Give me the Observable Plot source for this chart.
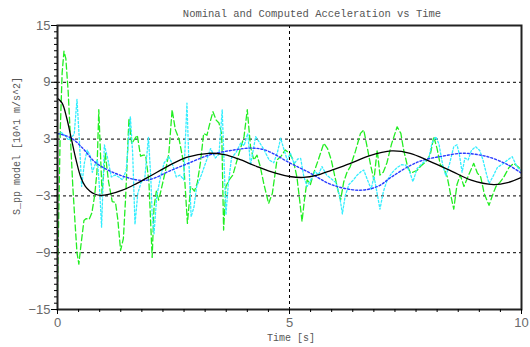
<!DOCTYPE html>
<html>
<head>
<meta charset="utf-8">
<script src="https://cdn.jsdelivr.net/npm/d3@7"></script>
<script src="https://cdn.jsdelivr.net/npm/@observablehq/plot@0.6"></script>
<style>
  html, body { margin: 0; padding: 0; background: #fff; }
  #chart svg { display: block; }
</style>
</head>
<body>
<div id="chart"></div>
<script>
// Nominal acceleration (smooth, solid black)
const nominalT = [0, 0.1, 0.2, 0.3, 0.4, 0.5, 0.6, 0.7, 0.8, 0.93, 1.1, 1.4, 1.7, 2.0, 2.4, 2.8, 3.26, 3.6, 3.9, 4.3, 4.7, 5.0, 5.3, 5.6, 5.9, 6.3, 6.7, 7.2, 7.6, 8.0, 8.5, 8.9, 9.4, 9.7, 10];
const nominalV = [7.3, 6.8, 5.2, 3.0, 0.8, -1.0, -2.0, -2.5, -2.8, -2.95, -2.85, -2.4, -1.7, -0.9, 0.2, 1.1, 1.5, 1.35, 0.9, 0.1, -0.6, -0.95, -1.05, -0.8, -0.3, 0.4, 1.2, 1.75, 1.5, 0.7, -0.4, -1.3, -1.8, -1.6, -1.05];

// Computed acceleration (smooth, dotted blue)
const computedT = [0, 0.3, 0.55, 0.8, 1.1, 1.4, 1.7, 1.9, 2.1, 2.4, 2.8, 3.26, 3.8, 4.2, 4.5, 5.0, 5.45, 5.9, 6.5, 6.9, 7.2, 7.6, 7.9, 8.3, 8.7, 9.0, 9.3, 9.7, 10];
const computedV = [3.6, 3.1, 2.0, 0.6, -0.3, -0.9, -1.3, -1.35, -1.1, -0.4, 0.4, 1.3, 1.85, 2.05, 1.8, 0.5, -0.6, -1.8, -2.4, -2.0, -1.0, 0.2, 0.8, 1.2, 1.5, 1.4, 1.1, 0.3, -0.6];

// Measured signal, first channel (dashed green)
const measuredAT = [0, 0.03, 0.06, 0.1, 0.14, 0.18, 0.23, 0.28, 0.33, 0.38, 0.42, 0.46, 0.51, 0.57, 0.62, 0.68, 0.74, 0.8, 0.85, 0.89, 0.93, 0.96, 1.03, 1.1, 1.18, 1.25, 1.3, 1.36, 1.42, 1.47, 1.54, 1.6, 1.66, 1.72, 1.79, 1.85, 1.9, 1.97, 2.04, 2.08, 2.13, 2.18, 2.25, 2.33, 2.4, 2.47, 2.54, 2.62, 2.72, 2.8, 2.87, 2.95, 3.01, 3.08, 3.15, 3.22, 3.3, 3.35, 3.42, 3.48, 3.54, 3.58, 3.63, 3.7, 3.78, 3.85, 3.93, 4.02, 4.09, 4.16, 4.23, 4.3, 4.37, 4.45, 4.55, 4.63, 4.73, 4.82, 4.91, 5.0, 5.08, 5.16, 5.22, 5.27, 5.32, 5.38, 5.45, 5.52, 5.62, 5.74, 5.82, 5.9, 5.98, 6.06, 6.1, 6.17, 6.24, 6.31, 6.42, 6.53, 6.6, 6.68, 6.75, 6.82, 6.89, 6.95, 7.02, 7.1, 7.2, 7.32, 7.4, 7.46, 7.54, 7.61, 7.68, 7.75, 7.82, 7.9, 7.97, 8.04, 8.11, 8.18, 8.25, 8.32, 8.4, 8.47, 8.54, 8.61, 8.68, 8.76, 8.86, 8.97, 9.05, 9.12, 9.2, 9.3, 9.37, 9.45, 9.53, 9.62, 9.73, 9.83, 9.92, 10];
const measuredAV = [-13, -4, 4, 10, 12.3, 11.5, 8, 3, -2, -6, -9, -10.2, -8, -5.6, -5.4, -5.5, -4.8, -3, -0.5, 6.1, 1, -2.75, 1.5, -1.5, -3.6, -3.7, -5.5, -8.75, -7.5, -3, 5.2, 2.5, 3.0, 3.4, 1.2, 1.3, 1.3, -1.5, -9.5, -4.2, -2.5, -3.45, -2.0, -0.27, 1.5, 6.1, 4.0, 3.0, 0.44, -5.9, -2.0, -2.5, -1.7, 0.5, 3.6, 3.4, 5.0, 5.9, 5.0, 4.7, 3.5, -6.6, -2.0, -1.3, -0.8, 0.44, 1.8, 3.26, 6.1, 2.2, 0.8, 1.3, 0.1, -1.8, -3.8, -2.75, 0.8, 1.2, 1.85, 1.5, 0.8, -1.0, -3.5, -5.7, -3.5, -1.3, -1.8, -0.6, 0.8, 2.56, 2.0, 0.8, -1.0, -2.75, -3.45, -1.5, -0.5, 0.1, 1.7, 3.6, 3.97, 2.0, 0.2, -1.3, 1.85, -0.8, -0.5, 0.5, 2.5, 4.3, 3.6, 1.85, 0.2, -0.6, -0.45, -0.3, 0.1, 0.44, 0.8, 1.5, 3.26, 2.0, 0.3, 0.0, -1.0, -2.8, -4.4, -1.8, -0.8, -2.0, -0.8, 0.44, -0.6, -1.0, -2.8, -4.0, -3.0, -2.0, -1.6, -1.0, 0.0, 0.44, 0.1, -0.27];

// Measured signal, second channel (dotted cyan)
const measuredBT = [0, 0.08, 0.16, 0.24, 0.3, 0.36, 0.42, 0.47, 0.52, 0.58, 0.64, 0.7, 0.75, 0.8, 0.86, 0.91, 0.95, 1.01, 1.08, 1.16, 1.24, 1.32, 1.4, 1.48, 1.57, 1.62, 1.67, 1.73, 1.8, 1.88, 1.96, 2.01, 2.04, 2.08, 2.14, 2.22, 2.3, 2.4, 2.48, 2.56, 2.64, 2.72, 2.79, 2.83, 2.88, 2.94, 3.0, 3.1, 3.2, 3.3, 3.4, 3.48, 3.55, 3.59, 3.63, 3.68, 3.75, 3.85, 3.95, 4.02, 4.1, 4.16, 4.27, 4.36, 4.46, 4.56, 4.66, 4.74, 4.81, 4.88, 4.95, 5.02, 5.1, 5.18, 5.24, 5.31, 5.38, 5.45, 5.55, 5.62, 5.7, 5.8, 5.9, 6.0, 6.08, 6.14, 6.2, 6.28, 6.36, 6.46, 6.55, 6.6, 6.68, 6.76, 6.82, 6.88, 6.95, 7.02, 7.1, 7.2, 7.32, 7.42, 7.5, 7.58, 7.66, 7.75, 7.9, 8.0, 8.07, 8.15, 8.22, 8.3, 8.37, 8.45, 8.54, 8.61, 8.66, 8.72, 8.78, 8.85, 8.92, 9.01, 9.1, 9.17, 9.24, 9.3, 9.38, 9.48, 9.6, 9.7, 9.8, 9.88, 9.95, 10];
const measuredBV = [3.5, 3.7, 3.4, 2.9, 3.2, 3.5, 7.2, 3.0, -2.0, 0.5, 1.85, 1.3, -0.5, 0.2, 0.8, -2.5, -6.3, 2.4, 1.0, -1.0, -0.8, -1.0, -1.3, -0.3, 5.4, 1.5, -6.0, -2.75, -1.6, -1.2, 3.2, -1.0, -4.9, -7.0, -3.0, -1.0, 0.5, 1.14, 0.3, -1.0, -0.8, -1.3, 6.8, 0.8, -5.2, -4.2, -2.0, -0.8, 0.6, 2.0, 1.0, 1.4, 6.1, 0.5, -5.0, -1.8, 1.0, 1.6, 2.6, 2.3, 3.6, 0.26, 3.26, 2.6, 1.8, 0.8, 0.5, 1.6, 3.1, 1.9, 0.8, 1.5, 0.4, 0.9, 0.97, -1.0, -2.0, -1.4, -0.4, -0.8, 0.1, -0.8, -1.2, -1.6, -3.0, -4.9, -3.0, -1.8, -1.4, -0.8, -0.4, -0.27, -1.3, -2.3, -0.9, -2.5, -4.4, -2.6, -1.4, -0.6, 0.0, 0.3, 0.26, -0.3, -1.5, -0.1, 0.6, 0.97, 2.56, 3.26, 2.5, 0.3, -0.9, 0.4, 2.2, 2.4, 1.4, -0.5, 1.0, 0.8, 1.8, 2.2, 1.8, 0.8, -0.6, -1.7, -1.0, 0.0, 0.4, 0.8, 1.14, 0.3, -0.2, -0.3];

// Axis ticks
const xTicks = [0, 5, 10];
const yTicks = [-15, -9, -3, 3, 9, 15];
const xMinor = d3.range(0, 23).map(k => k * 5 / 11);
const yMinor = d3.range(0, 46).map(k => -15 + k * 2 / 3);
const xGrid = [5];
const yGrid = [-9, -3, 3, 9];

const toRows = (T, V) => T.map((t, i) => ({t, v: V[i]}));
const nominal = toRows(nominalT, nominalV);
const computed = toRows(computedT, computedV);
const measuredA = toRows(measuredAT, measuredAV);
const measuredB = toRows(measuredBT, measuredBV);

const tickFont = {fontFamily: "Liberation Sans, Arial, sans-serif", fontSize: 13, fill: "#6a6a6a"};

const plot = Plot.plot({
  width: 530,
  height: 347,
  marginLeft: 57,
  marginRight: 9,
  marginTop: 25,
  marginBottom: 38,
  style: {background: "#fff", overflow: "visible"},
  x: {domain: [0, 10]},
  y: {domain: [-15, 15]},
  marks: [
    Plot.gridY(yGrid, {stroke: "#000", strokeOpacity: 1, strokeDasharray: "3,3", strokeWidth: 1}),
    Plot.gridX(xGrid, {stroke: "#000", strokeOpacity: 1, strokeDasharray: "3,3", strokeWidth: 1}),
    Plot.line(measuredA, {x: "t", y: "v", stroke: "#22ee22", strokeWidth: 1.3, strokeDasharray: "6,3", curve: "linear"}),
    Plot.line(measuredB, {x: "t", y: "v", stroke: "#33eeff", strokeWidth: 1.3, strokeDasharray: "2,2", curve: "linear"}),
    Plot.line(computed, {x: "t", y: "v", stroke: "#2a3cff", strokeWidth: 1.4, strokeDasharray: "2,2", curve: "catmull-rom"}),
    Plot.line(nominal, {x: "t", y: "v", stroke: "#000", strokeWidth: 1.3, curve: "catmull-rom"}),
    Plot.frame({stroke: "#222", strokeWidth: 2}),
    Plot.axisY({ticks: yMinor, tickSize: 3, text: null, label: null, stroke: "#000"}),
    Plot.axisY({ticks: yTicks, tickSize: 6, tickPadding: 1, label: null, stroke: "#000", ...tickFont}),
    Plot.axisX({ticks: xMinor, tickSize: 3, text: null, label: null, stroke: "#000"}),
    Plot.axisX({ticks: xTicks, tickSize: 5, tickPadding: 3, label: null, stroke: "#000", ...tickFont})
  ]
});

// Title and axis labels
const svg = d3.select(plot);
const mono = "Liberation Mono, DejaVu Sans Mono, monospace";
svg.append("text")
  .attr("x", 312).attr("y", 17)
  .attr("text-anchor", "middle")
  .attr("font-family", mono).attr("font-size", 10.5).attr("fill", "#555")
  .text("Nominal and Computed Acceleration vs Time");
svg.append("text")
  .attr("x", 291).attr("y", 341)
  .attr("text-anchor", "middle")
  .attr("font-family", mono).attr("font-size", 10).attr("fill", "#555")
  .text("Time [s]");
svg.append("text")
  .attr("transform", "translate(20,146) rotate(-90)")
  .attr("text-anchor", "middle")
  .attr("font-family", mono).attr("font-size", 10).attr("fill", "#555")
  .text("S_pp model [10^1 m/s^2]");

document.getElementById("chart").appendChild(plot);
</script>
</body>
</html>
